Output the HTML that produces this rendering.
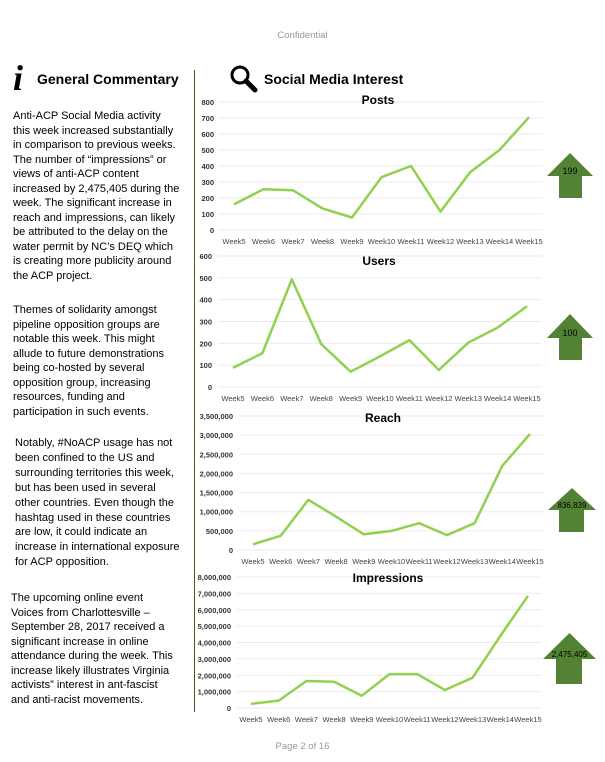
<!DOCTYPE html>
<html><head><meta charset="utf-8">
<style>
body{margin:0;width:605px;height:762px;background:#fff;font-family:"Liberation Sans",Arial,sans-serif;position:relative;overflow:hidden}
.p{position:absolute;left:13px;font-size:11px;line-height:14.5px;color:#000;margin:0;white-space:nowrap}
</style></head><body>
<div style="position:absolute;top:30px;left:0;width:605px;text-align:center;font-size:9.5px;color:#999">Confidential</div>
<div style="position:absolute;left:13px;top:60px;font-family:'Liberation Serif',serif;font-style:italic;font-weight:bold;font-size:36px;line-height:36px">i</div>
<div style="position:absolute;left:37px;top:71px;font-size:14px;font-weight:bold">General Commentary</div>
<p class="p" style="top:109px">Anti-ACP Social Media activity<br>this week increased substantially<br>in comparison to previous weeks.<br>The number of “impressions” or<br>views of anti-ACP content<br>increased by 2,475,405 during the<br>week. The significant increase in<br>reach and impressions, can likely<br>be attributed to the delay on the<br>water permit by NC’s DEQ which<br>is creating more publicity around<br>the ACP project.</p>
<p class="p" style="top:303px">Themes of solidarity amongst<br>pipeline opposition groups are<br>notable this week. This might<br>allude to future demonstrations<br>being co-hosted by several<br>opposition group, increasing<br>resources, funding and<br>participation in such events.</p>
<p class="p" style="top:436px;left:15px;line-height:14.9px">Notably, #NoACP usage has not<br>been confined to the US and<br>surrounding territories this week,<br>but has been used in several<br>other countries. Even though the<br>hashtag used in these countries<br>are low, it could indicate an<br>increase in international exposure<br>for ACP opposition.</p>
<p class="p" style="top:591px;left:11px">The upcoming online event<br>Voices from Charlottesville –<br>September 28, 2017 received a<br>significant increase in online<br>attendance during the week. This<br>increase likely illustrates Virginia<br>activists” interest in ant-fascist<br>and anti-racist movements.</p>
<div style="position:absolute;left:194px;top:70px;width:1px;height:642px;background:#3a5f1e"></div>
<svg style="position:absolute;left:229px;top:64px" width="32" height="30"><circle cx="11" cy="11" r="8" fill="none" stroke="#000" stroke-width="3"/><line x1="17" y1="17" x2="26" y2="26" stroke="#000" stroke-width="5" stroke-linecap="round"/></svg>
<div style="position:absolute;left:264px;top:71px;font-size:14px;font-weight:bold">Social Media Interest</div>
<div style="position:absolute;top:741px;left:0;width:605px;text-align:center;font-size:9.5px;color:#999">Page 2 of 16</div>
<svg id="charts" width="605" height="762" style="position:absolute;left:0;top:0"></svg>
<script>
const weeks=["Week5","Week6","Week7","Week8","Week9","Week10","Week11","Week12","Week13","Week14","Week15"];
const postsValues=[160,255,248,135,78,330,400,115,360,500,705];
const postsTicks=[0,100,200,300,400,500,600,700,800];
const usersValues=[88,155,493,197,70,140,215,78,203,272,370];
const usersTicks=[0,100,200,300,400,500,600];
const reachValues=[150000,370000,1310000,870000,410000,500000,700000,390000,700000,2200000,3030000];
const reachTicks=[0,500000,1000000,1500000,2000000,2500000,3000000,3500000];
const impValues=[250000,450000,1650000,1600000,750000,2070000,2070000,1100000,1850000,4400000,6850000];
const impTicks=[0,1000000,2000000,3000000,4000000,5000000,6000000,7000000,8000000];
const changeLabels=["199","100","836,839","2,475,405"];
const NS="http://www.w3.org/2000/svg";
const svg=document.getElementById('charts');
function mk(t,a){const e=document.createElementNS(NS,t);for(const k in a)e.setAttribute(k,a[k]);svg.appendChild(e);return e;}
function fmt(v){return v.toLocaleString('en-US');}
function chart(name,title,vals,ticks,g){
  const max=ticks[ticks.length-1];
  const y=v=>g.y0-(v/max)*(g.y0-g.yTop);
  const step=(g.x1-g.x0)/(weeks.length-1);
  const x=i=>g.x0+i*step;
  ticks.forEach(t=>{
    const l=mk('line',{x1:g.gx,x2:g.x1+step/2,y1:y(t),y2:y(t),stroke:'#ebebeb','stroke-width':1});
    
    
    const tx=mk('text',{x:g.gx-6,y:y(t)+3,'text-anchor':'end','font-size':7.5,'font-weight':'bold',fill:'#333'});
    tx.textContent=fmt(t);
    
    
  });
  weeks.forEach((w,i)=>{
    const tx=mk('text',{x:x(i),y:g.y0+14,'text-anchor':'middle','font-size':7.5,fill:'#444'});
    tx.textContent=w;
    
    
  });
  const pts=vals.map((v,i)=>x(i).toFixed(1)+','+y(v).toFixed(1)).join(' ');
  const pl=mk('polyline',{points:pts,fill:'none',stroke:'#92d050','stroke-width':2.5,'stroke-linejoin':'round'});
  
  
  const tt=mk('text',{x:g.tx,y:g.ty,'text-anchor':'middle','font-size':12,'font-weight':'bold',fill:'#000'});
  tt.textContent=title;
  
  
}
function arrow(name,label,a){
  const p=mk('polygon',{points:`${(a.hl+a.hr)/2},${a.tip} ${a.hr},${a.base} ${a.sr},${a.base} ${a.sr},${a.bot} ${a.sl},${a.bot} ${a.sl},${a.base} ${a.hl},${a.base}`,fill:'#548235'});
  
  
  const t=mk('text',{x:(a.hl+a.hr)/2,y:a.base-2,'text-anchor':'middle','font-size':a.fs,fill:'#000'});
  t.textContent=label;
  
  
}
chart('posts','Posts',postsValues,postsTicks,{x0:234,x1:529,gx:220,y0:230,yTop:102,tx:378,ty:104});
chart('users','Users',usersValues,usersTicks,{x0:233,x1:527,gx:218,y0:387,yTop:256,tx:379,ty:265});
chart('reach','Reach',reachValues,reachTicks,{x0:253,x1:530,gx:239,y0:550,yTop:416,tx:383,ty:422});
chart('impressions','Impressions',impValues,impTicks,{x0:251,x1:528,gx:237,y0:708,yTop:577,tx:388,ty:582});
arrow('posts-change-arrow',changeLabels[0],{hl:547,hr:593,tip:153,base:176,sl:559,sr:582,bot:198,fs:9});
arrow('users-change-arrow',changeLabels[1],{hl:547,hr:593,tip:314,base:338,sl:559,sr:582,bot:360,fs:9});
arrow('reach-change-arrow',changeLabels[2],{hl:548,hr:596,tip:488,base:510,sl:559,sr:584,bot:532,fs:8});
arrow('impressions-change-arrow',changeLabels[3],{hl:543,hr:596,tip:633,base:659,sl:556,sr:582,bot:684,fs:8});
</script>
</body></html>
